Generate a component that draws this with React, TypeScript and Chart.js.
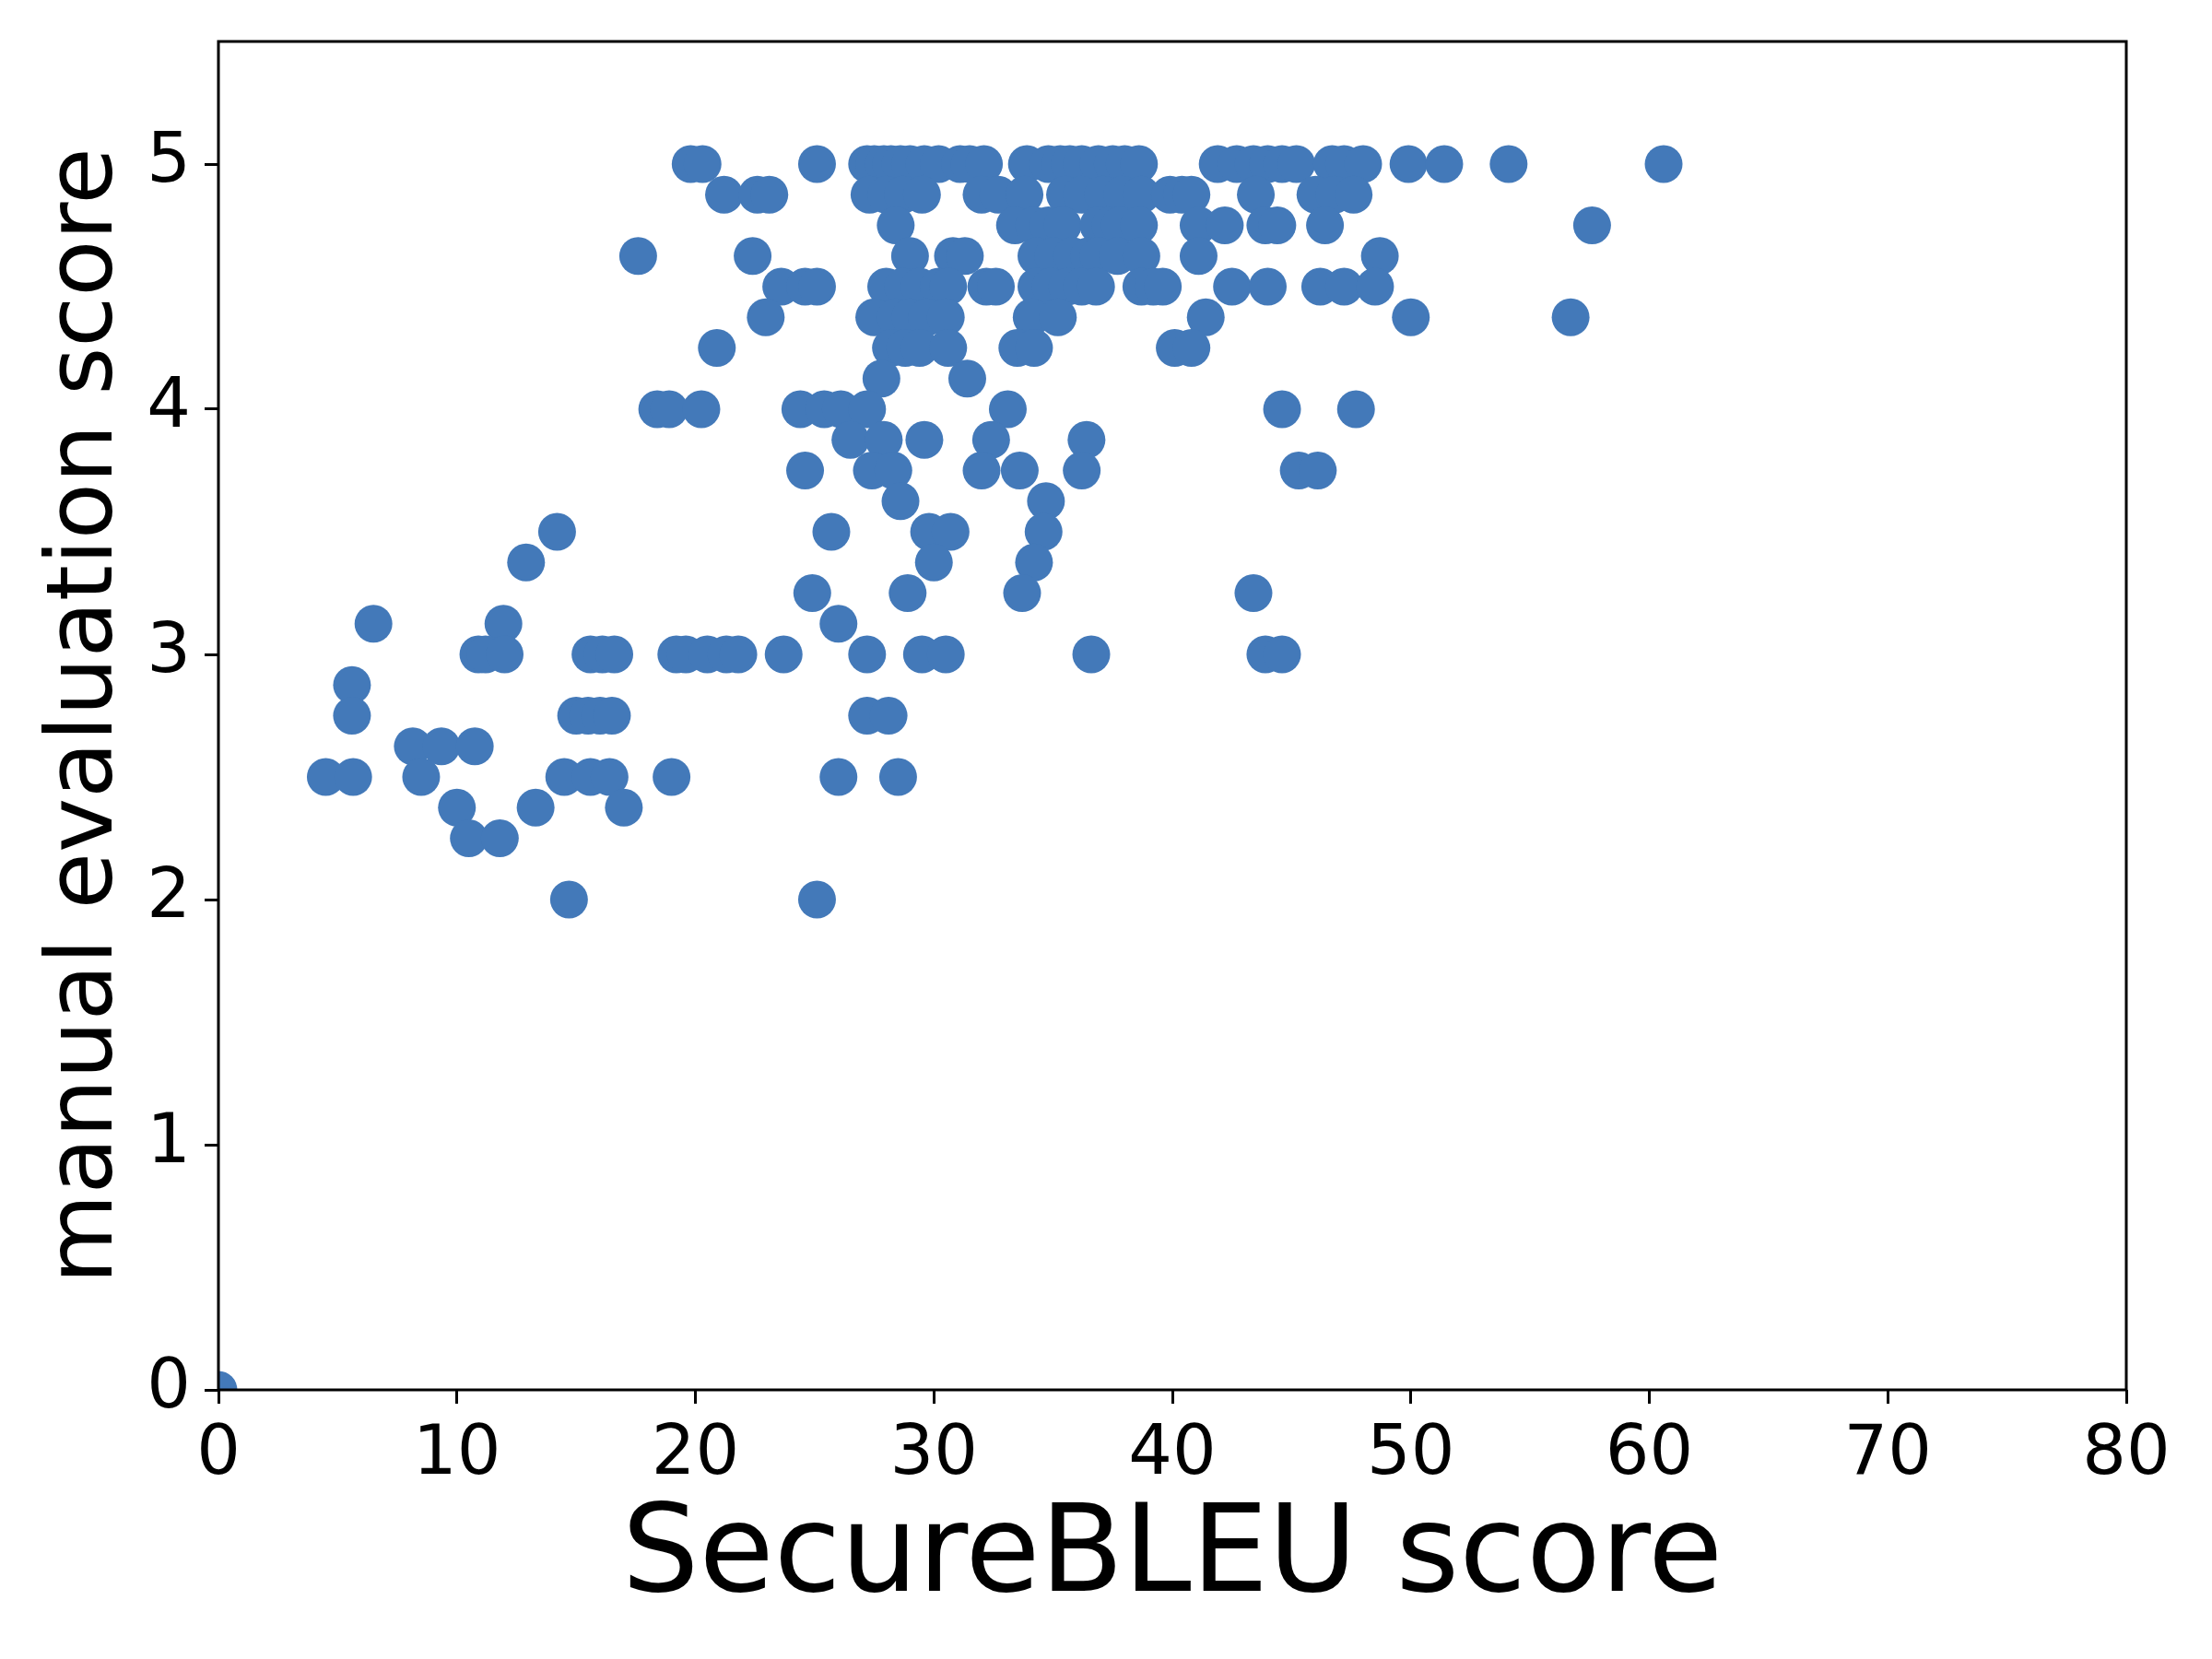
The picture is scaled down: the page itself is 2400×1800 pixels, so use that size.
import React, { useEffect, useRef } from 'react';
import { Chart, registerables } from 'chart.js';

Chart.register(...registerables);

// ---- tick labels / axis text ----
const xTickValues = [0, 10, 20, 30, 40, 50, 60, 70, 80];
const yTickValues = [0, 1, 2, 3, 4, 5];
const xAxisLabel = 'SecureBLEU score';
const yAxisLabel = 'manual evaluation score';

// ---- SecureBLEU scores, grouped by manual evaluation score ----
const bleuAt5000 = [19.8, 20.3, 25.1, 27.2, 27.5, 27.9, 28.2, 28.6, 29.0, 29.6, 30.2, 31.1, 31.5, 32.1, 33.9, 34.8, 35.3, 35.7, 36.2, 36.9, 37.5, 38.0, 38.6, 41.9, 42.7, 43.4, 44.0, 44.6, 45.2, 46.7, 47.2, 48.0, 49.9, 51.4, 54.1, 60.6];
const bleuAt4875 = [21.2, 22.6, 23.1, 27.3, 28.0, 28.7, 29.5, 32.0, 32.7, 33.8, 35.5, 36.2, 37.1, 37.9, 38.7, 39.9, 40.4, 40.8, 43.5, 46.0, 46.8, 47.6];
const bleuAt4750 = [28.4, 33.4, 34.2, 34.8, 35.4, 36.9, 37.4, 37.8, 38.6, 41.1, 42.2, 43.9, 44.4, 46.4, 57.6];
const bleuAt4625 = [17.6, 22.4, 29.0, 30.8, 31.3, 34.3, 35.0, 35.8, 36.5, 36.9, 37.7, 38.7, 41.1, 48.7];
const bleuAt4500 = [23.6, 24.6, 25.1, 28.0, 28.7, 29.4, 30.2, 30.6, 32.2, 32.6, 34.3, 34.9, 35.6, 36.2, 36.8, 38.7, 39.2, 39.6, 42.5, 44.0, 46.2, 47.2, 48.5];
const bleuAt4375 = [22.95, 27.5, 28.4, 29.0, 29.7, 30.5, 34.1, 35.2, 41.4, 50.0, 56.7];
const bleuAt4250 = [20.9, 28.2, 28.8, 29.4, 30.6, 33.5, 34.2, 40.1, 40.8];
const bleuAt4125 = [27.8, 31.4];
const bleuAt4000 = [18.4, 18.9, 20.25, 24.4, 25.4, 26.1, 27.2, 33.1, 44.6, 47.7];
const bleuAt3875 = [26.5, 27.9, 29.6, 32.4, 36.4];
const bleuAt3750 = [24.6, 27.4, 28.3, 32.0, 33.6, 36.2, 45.3, 46.1];
const bleuAt3625 = [28.6, 34.7];
const bleuAt3500 = [14.2, 25.7, 29.8, 30.7, 34.6];
const bleuAt3375 = [12.9, 30.0, 34.2];
const bleuAt3250 = [24.9, 28.9, 33.7, 43.4];
const bleuAt3125 = [6.5, 11.95, 26.0];
const bleuAt3000 = [10.9, 11.2, 12.0, 15.6, 16.1, 16.6, 19.2, 19.6, 20.5, 21.3, 21.8, 23.7, 27.2, 29.5, 30.5, 36.6, 43.9, 44.6];
const bleuAt2875 = [5.6];
const bleuAt2750 = [5.6, 15.0, 15.5, 16.0, 16.5, 27.2, 28.1];
const bleuAt2625 = [8.15, 9.35, 10.75];
const bleuAt2500 = [4.5, 5.65, 8.5, 14.5, 15.6, 16.4, 19.0, 26.0, 28.5];
const bleuAt2375 = [10.0, 13.3, 17.0];
const bleuAt2250 = [10.5, 11.8];
const bleuAt2000 = [14.7, 25.1];
const bleuAt0000 = [0];

const manualLevels = [5, 4.875, 4.75, 4.625, 4.5, 4.375, 4.25, 4.125, 4, 3.875, 3.75, 3.625, 3.5, 3.375, 3.25, 3.125, 3, 2.875, 2.75, 2.625, 2.5, 2.375, 2.25, 2, 0];
const bleuRows = [bleuAt5000, bleuAt4875, bleuAt4750, bleuAt4625, bleuAt4500, bleuAt4375, bleuAt4250, bleuAt4125, bleuAt4000, bleuAt3875, bleuAt3750, bleuAt3625, bleuAt3500, bleuAt3375, bleuAt3250, bleuAt3125, bleuAt3000, bleuAt2875, bleuAt2750, bleuAt2625, bleuAt2500, bleuAt2375, bleuAt2250, bleuAt2000, bleuAt0000];

const FONT = "'DejaVu Sans', sans-serif";

const framePlugin = {
  id: 'frame',
  afterDatasetsDraw(chart: any) {
    const { ctx, chartArea } = chart;
    ctx.save();
    ctx.strokeStyle = '#000';
    ctx.lineWidth = 3;
    ctx.strokeRect(chartArea.left, chartArea.top, chartArea.right - chartArea.left, chartArea.bottom - chartArea.top);
    ctx.restore();
  },
};

export default function App() {
  const ref = useRef<HTMLCanvasElement | null>(null);

  useEffect(() => {
    document.body.style.margin = '0';
    const canvas = ref.current;
    if (!canvas) return;
    const points = bleuRows.flatMap((row, i) => row.map((x) => ({ x, y: manualLevels[i] })));
    const chart = new Chart(canvas, {
      type: 'scatter',
      data: {
        datasets: [
          {
            data: points,
            pointRadius: 20.5,
            pointBackgroundColor: '#4379b9',
            pointBorderWidth: 0,
            pointHoverRadius: 20.5,
            clip: 0,
          } as any,
        ],
      },
      plugins: [framePlugin],
      options: {
        responsive: false,
        animation: false,
        devicePixelRatio: 1,
        events: [],
        layout: { padding: { top: 45, right: 93, left: 0, bottom: 0 } },
        plugins: { legend: { display: false }, tooltip: { enabled: false } },
        scales: {
          x: {
            type: 'linear',
            min: 0,
            max: 80,
            afterFit: (s: any) => { s.height = 292; s.paddingLeft = 0; s.paddingRight = 0; },
            afterBuildTicks: (s: any) => { s.ticks = xTickValues.map((v) => ({ value: v })); },
            border: { display: false },
            grid: { drawOnChartArea: false, drawTicks: true, tickLength: 15, tickWidth: 3, tickColor: '#000' },
            ticks: { color: '#000', font: { family: FONT, size: 75 }, padding: 12, maxRotation: 0, autoSkip: false },
            title: { display: true, text: xAxisLabel, color: '#000', font: { family: FONT, size: 132, lineHeight: 1.2 }, padding: { top: 0, bottom: 29 } },
          },
          y: {
            type: 'linear',
            min: 0,
            max: 5.5,
            afterFit: (s: any) => { s.width = 237; s.paddingTop = 0; s.paddingBottom = 0; },
            afterBuildTicks: (s: any) => { s.ticks = yTickValues.map((v) => ({ value: v })); },
            border: { display: false },
            grid: { drawOnChartArea: false, drawTicks: true, tickLength: 15, tickWidth: 3, tickColor: '#000' },
            ticks: { color: '#000', font: { family: FONT, size: 75 }, padding: 15, autoSkip: false },
            title: { display: true, text: yAxisLabel, color: '#000', font: { family: FONT, size: 100, lineHeight: 1.2 }, padding: { top: 35, bottom: 0 } },
          },
        },
      },
    });
    return () => chart.destroy();
  }, []);

  return (
    <div style={{ width: 2400, height: 1800, background: '#fff' }}>
      <canvas ref={ref} width={2400} height={1800} style={{ width: 2400, height: 1800, display: 'block' }} />
    </div>
  );
}
